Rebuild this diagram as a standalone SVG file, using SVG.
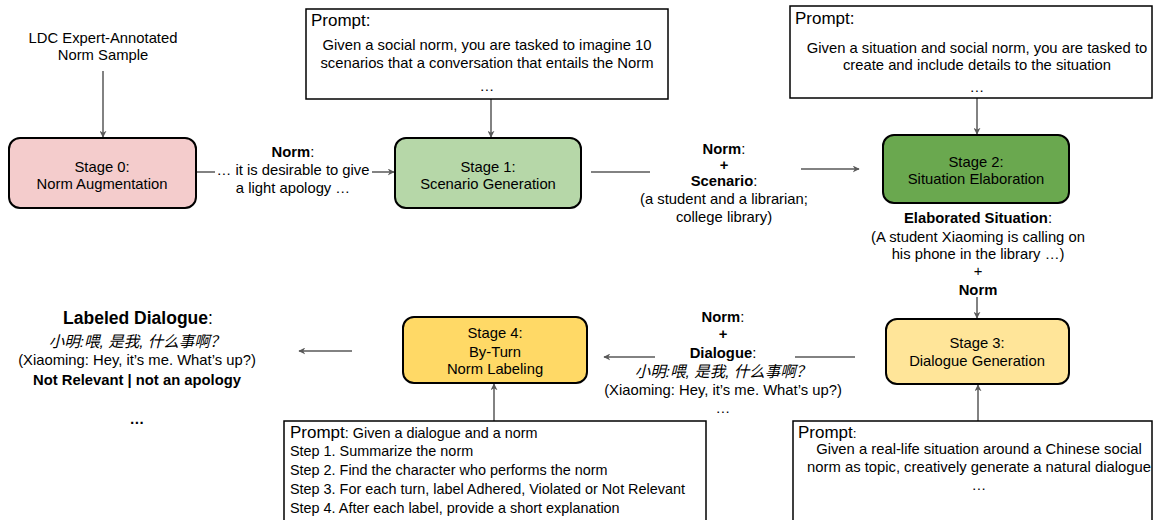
<svg xmlns="http://www.w3.org/2000/svg" width="1155" height="520" viewBox="0 0 1155 520">
<style>
text{font-family:"Liberation Sans",Arial,"Noto Sans CJK SC",sans-serif;fill:#000;}
.t{font-size:14.8px;text-anchor:middle;}
.b{font-weight:bold;}
.p{font-size:17px;}
.pb{font-size:14.8px;text-anchor:middle;}
.s{font-size:14.4px;}
.zh{font-style:italic;font-size:15.5px;}
.stage{stroke:#000;stroke-width:2;}
.prompt{fill:#fff;stroke:#000;stroke-width:1.5;}
.c{stroke:#595959;stroke-width:1.5;fill:none;}
.ca{stroke:#595959;stroke-width:1.5;fill:none;marker-end:url(#ah);}
</style>
<defs>
<marker id="ah" viewBox="0 0 10 10" refX="9" refY="5" markerWidth="7" markerHeight="7" markerUnits="userSpaceOnUse" orient="auto">
<path d="M0,0 L10,5 L0,10 L3,5 z" fill="#595959"/>
</marker>
</defs>
<rect width="1155" height="520" fill="#fff"/>

<g id="connectors">
<line class="ca" x1="103" y1="71" x2="103" y2="137"/>
<line class="ca" x1="491" y1="99" x2="491" y2="137"/>
<line class="c" x1="196" y1="172" x2="215" y2="172"/>
<line class="ca" x1="372" y1="172" x2="394" y2="172"/>
<line class="c" x1="591" y1="172" x2="650" y2="172"/>
<line class="ca" x1="801" y1="169" x2="859" y2="169"/>
<line class="ca" x1="977" y1="98" x2="977" y2="134"/>
<line class="ca" x1="977" y1="297" x2="977" y2="318"/>
<line class="ca" x1="978" y1="421" x2="978" y2="385"/>
<line class="c" x1="855" y1="357" x2="795" y2="357"/>
<line class="ca" x1="655" y1="357" x2="604" y2="357"/>
<line class="ca" x1="494" y1="421" x2="494" y2="384"/>
<line class="ca" x1="352" y1="351" x2="299" y2="351"/>
</g>

<g id="ldc-sample">
<text class="t" x="103" y="43">LDC Expert-Annotated</text>
<text class="t" x="103" y="60">Norm Sample</text>
</g>

<g id="prompt1">
<rect class="prompt" x="306" y="9" width="362" height="90"/>
<text class="p" x="311" y="26">Prompt:</text>
<text class="pb" x="487" y="50">Given a social norm, you are tasked to imagine 10</text>
<text class="pb" x="487" y="68">scenarios that a conversation that entails the Norm</text>
<text class="pb" x="487" y="91">…</text>
</g>

<g id="stage0">
<rect class="stage" x="9" y="138" width="187" height="70" rx="11" fill="#f4cccc"/>
<text class="t" x="102" y="172">Stage 0:</text>
<text class="t" x="102" y="189">Norm Augmentation</text>
</g>

<g id="label-norm">
<text class="t" x="293" y="157"><tspan class="b">Norm</tspan>:</text>
<text class="t" x="293" y="175">… it is desirable to give</text>
<text class="t" x="293" y="193">a light apology …</text>
</g>

<g id="stage1">
<rect class="stage" x="395" y="138" width="186" height="70" rx="11" fill="#b6d7a8"/>
<text class="t" x="488" y="172">Stage 1:</text>
<text class="t" x="488" y="189">Scenario Generation</text>
</g>

<g id="label-norm-scenario">
<text class="t" x="724" y="154"><tspan class="b">Norm</tspan>:</text>
<text class="t b" x="724" y="170">+</text>
<text class="t" x="724" y="186"><tspan class="b">Scenario</tspan>:</text>
<text class="t" x="724" y="204">(a student and a librarian;</text>
<text class="t" x="724" y="222">college library)</text>
</g>

<g id="prompt2">
<rect class="prompt" x="790" y="6" width="362" height="92"/>
<text class="p" x="795" y="24">Prompt:</text>
<text class="pb" x="977" y="53">Given a situation and social norm, you are tasked to</text>
<text class="pb" x="977" y="70">create and include details to the situation</text>
<text class="pb" x="977" y="92">…</text>
</g>

<g id="stage2">
<rect class="stage" x="883" y="135" width="186" height="68" rx="11" fill="#6aa84f"/>
<text class="t" x="976" y="167">Stage 2:</text>
<text class="t" x="976" y="184">Situation Elaboration</text>
</g>

<g id="label-elaborated">
<text class="t" x="978" y="223"><tspan class="b">Elaborated Situation</tspan>:</text>
<text class="t" x="978" y="242">(A student Xiaoming is calling on</text>
<text class="t" x="978" y="259">his phone in the library …)</text>
<text class="t" x="978" y="276">+</text>
<text class="t b" x="978" y="295">Norm</text>
</g>

<g id="stage3">
<rect class="stage" x="886" y="319" width="183" height="65" rx="11" fill="#ffe599"/>
<text class="t" x="977" y="348">Stage 3:</text>
<text class="t" x="977" y="366">Dialogue Generation</text>
</g>

<g id="prompt4">
<rect class="prompt" x="793" y="421" width="359" height="105"/>
<text class="p" x="798" y="438">Prompt<tspan font-size="13.6">:</tspan></text>
<text class="pb" x="979" y="454">Given a real-life situation around a Chinese social</text>
<text class="pb" x="979" y="472">norm as topic, creatively generate a natural dialogue</text>
<text class="pb" x="979" y="490">…</text>
</g>

<g id="label-norm-dialogue">
<text class="t" x="723" y="322"><tspan class="b">Norm</tspan>:</text>
<text class="t b" x="723" y="339">+</text>
<text class="t" x="723" y="358"><tspan class="b">Dialogue</tspan>:</text>
<text class="t zh" x="723" y="377">小明:喂, 是我, 什么事啊？</text>
<text class="t" x="723" y="395">(Xiaoming: Hey, it’s me. What’s up?)</text>
<text class="t" x="723" y="413">…</text>
</g>

<g id="stage4">
<rect class="stage" x="403" y="317" width="184" height="66" rx="11" fill="#ffd966"/>
<text class="t" x="495" y="338">Stage 4:</text>
<text class="t" x="495" y="357">By-Turn</text>
<text class="t" x="495" y="374">Norm Labeling</text>
</g>

<g id="prompt3">
<rect class="prompt" x="284" y="421" width="422" height="105"/>
<text class="p" x="290" y="438">Prompt<tspan class="s">: Given a dialogue and a norm</tspan></text>
<text class="s" x="290" y="456">Step 1. Summarize the norm</text>
<text class="s" x="290" y="475">Step 2. Find the character who performs the norm</text>
<text class="s" x="290" y="494">Step 3. For each turn, label Adhered, Violated or Not Relevant</text>
<text class="s" x="290" y="513">Step 4. After each label, provide a short explanation</text>
</g>

<g id="labeled-dialogue">
<text class="t" x="138" y="324" style="font-size:17.5px"><tspan class="b">Labeled Dialogue</tspan>:</text>
<text class="t zh" x="137" y="347">小明:喂, 是我, 什么事啊？</text>
<text class="t" x="137" y="365">(Xiaoming: Hey, it’s me. What’s up?)</text>
<text class="t b" x="137" y="385">Not Relevant | not an apology</text>
<text class="t b" x="137" y="424">…</text>
</g>
</svg>
